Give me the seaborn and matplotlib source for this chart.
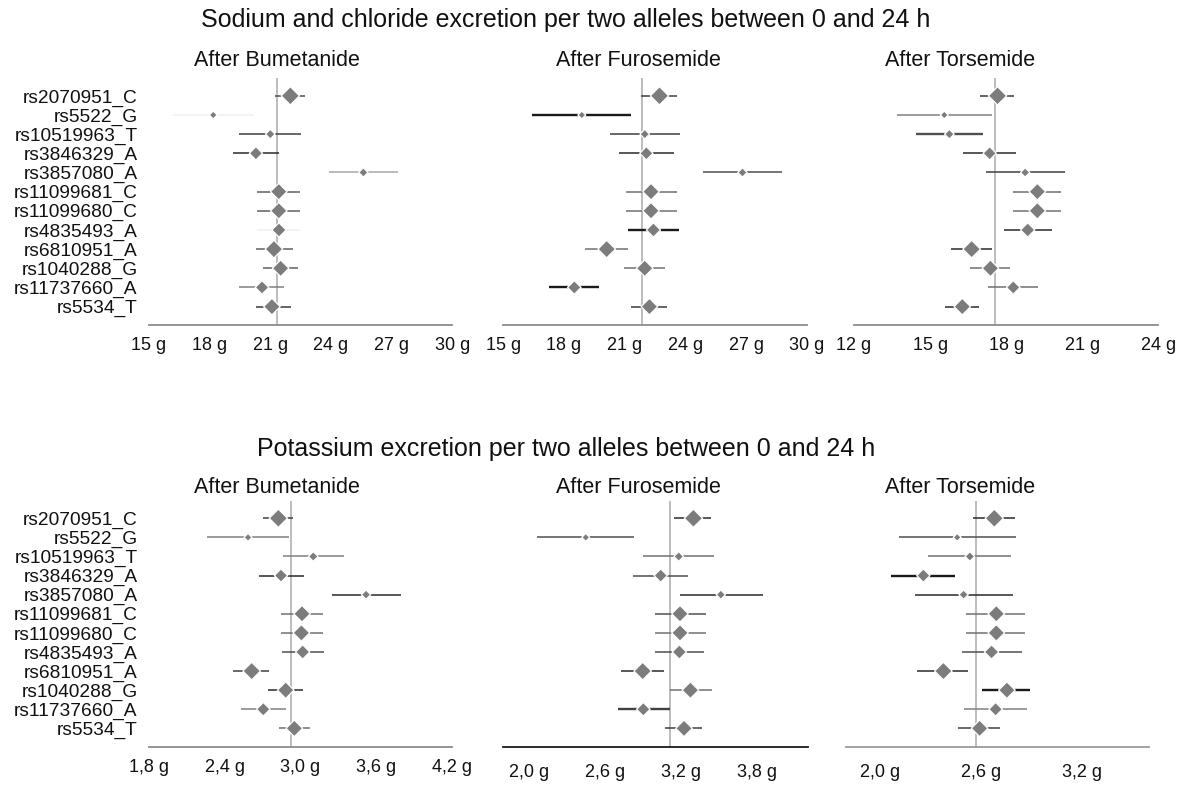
import numpy as np
import pandas as pd
import matplotlib
matplotlib.use("Agg")
import matplotlib.pyplot as plt
import seaborn as sns

# ---------------- data ----------------
snps = ["rs2070951_C", "rs5522_G", "rs10519963_T", "rs3846329_A", "rs3857080_A",
        "rs11099681_C", "rs11099680_C", "rs4835493_A", "rs6810951_A", "rs1040288_G",
        "rs11737660_A", "rs5534_T"]
weights = [15.7, 5.3, 7.0, 10.7, 6.7, 14.0, 14.0, 11.7, 15.0, 14.0, 11.0, 14.0]

drugs = ["After Bumetanide", "After Furosemide", "After Torsemide"]

# Sodium and chloride (g)
na_bum_est = [22.00, 18.19, 21.01, 20.30, 25.61, 21.43, 21.43, 21.44, 21.19, 21.52, 20.60, 21.09]
na_bum_lo = [21.26, 16.19, 19.46, 19.18, 23.90, 20.34, 20.34, 20.34, 20.30, 20.67, 19.48, 20.30]
na_bum_hi = [22.74, 20.20, 22.53, 21.43, 27.32, 22.48, 22.48, 22.50, 22.12, 22.38, 21.70, 22.05]
na_bum_ref = 21.33

na_fur_est = [22.72, 18.88, 21.99, 22.07, 26.82, 22.30, 22.30, 22.42, 20.11, 21.99, 18.51, 22.22]
na_fur_lo = [21.83, 16.43, 20.26, 20.74, 24.86, 21.07, 21.07, 21.18, 19.06, 20.97, 17.28, 21.31]
na_fur_hi = [23.58, 21.30, 23.75, 23.46, 28.77, 23.58, 23.58, 23.70, 21.15, 23.01, 19.73, 23.11]
na_fur_ref = 21.86

na_tor_est = [17.66, 15.56, 15.76, 17.35, 18.75, 19.23, 19.23, 18.85, 16.64, 17.38, 18.28, 16.27]
na_tor_lo = [16.98, 13.71, 14.43, 16.30, 17.19, 18.28, 18.28, 17.91, 15.81, 16.56, 17.28, 15.59]
na_tor_hi = [18.32, 17.45, 17.07, 18.39, 20.32, 20.17, 20.17, 19.82, 17.45, 18.14, 19.27, 16.94]
na_tor_ref = 17.57

# Potassium (g)
k_bum_est = [2.825, 2.585, 3.101, 2.846, 3.518, 3.012, 3.007, 3.017, 2.614, 2.883, 2.706, 2.951]
k_bum_lo = [2.706, 2.263, 2.859, 2.670, 3.247, 2.843, 2.843, 2.851, 2.469, 2.746, 2.530, 2.828]
k_bum_hi = [2.943, 2.911, 3.346, 3.030, 3.797, 3.180, 3.180, 3.186, 2.753, 3.022, 2.885, 3.075]
k_bum_ref = 2.925

k_fur_est = [3.299, 2.450, 3.183, 3.041, 3.515, 3.193, 3.193, 3.188, 2.899, 3.275, 2.904, 3.225]
k_fur_lo = [3.149, 2.066, 2.901, 2.822, 3.191, 2.994, 2.994, 2.994, 2.730, 3.112, 2.702, 3.078]
k_fur_hi = [3.436, 2.832, 3.465, 3.259, 3.847, 3.397, 3.397, 3.386, 3.067, 3.444, 3.112, 3.365]
k_fur_ref = 3.112

k_tor_est = [2.680, 2.460, 2.535, 2.259, 2.498, 2.692, 2.692, 2.664, 2.378, 2.755, 2.688, 2.593]
k_tor_lo = [2.553, 2.115, 2.287, 2.067, 2.207, 2.514, 2.514, 2.488, 2.221, 2.607, 2.498, 2.464]
k_tor_hi = [2.800, 2.810, 2.780, 2.447, 2.790, 2.865, 2.865, 2.846, 2.526, 2.893, 2.873, 2.715]
k_tor_ref = 2.571

na_ticks_bf = [15, 18, 21, 24, 27, 30]
na_ticks_t = [12, 15, 18, 21, 24]
k_ticks_b = [1.8, 2.4, 3.0, 3.6, 4.2]
k_ticks_f = [2.0, 2.6, 3.2, 3.8]
k_ticks_t = [2.0, 2.6, 3.2]

title_na = "Sodium and chloride excretion per two alleles between 0 and 24 h"
title_k = "Potassium excretion per two alleles between 0 and 24 h"

# ---------------- styles ----------------
line_shades = {
    "na_bum": ["#505050", "#f0f0f0", "#404040", "#2a2a2a", "#a8a8a8", "#606060",
               "#606060", "#f0f0f0", "#606060", "#606060", "#808080", "#3a3a3a"],
    "na_fur": ["#404040", "#1a1a1a", "#404040", "#2a2a2a", "#505050", "#707070",
               "#707070", "#1a1a1a", "#707070", "#707070", "#1a1a1a", "#3a3a3a"],
    "na_tor": ["#3a3a3a", "#808080", "#505050", "#2a2a2a", "#404040", "#707070",
               "#707070", "#2a2a2a", "#2a2a2a", "#707070", "#707070", "#2a2a2a"],
    "k_bum": ["#404040", "#808080", "#808080", "#2a2a2a", "#2a2a2a", "#707070",
              "#707070", "#505050", "#404040", "#2a2a2a", "#808080", "#707070"],
    "k_fur": ["#2a2a2a", "#505050", "#707070", "#505050", "#2a2a2a", "#505050",
              "#707070", "#505050", "#2a2a2a", "#707070", "#404040", "#404040"],
    "k_tor": ["#2a2a2a", "#505050", "#707070", "#1a1a1a", "#2a2a2a", "#707070",
              "#707070", "#505050", "#2a2a2a", "#1a1a1a", "#808080", "#404040"],
}
thick_rows = {"na_bum": [], "na_fur": [1, 7, 10], "na_tor": [2],
              "k_bum": [], "k_fur": [10], "k_tor": [3, 9]}

sns.set_theme(style="white")
plt.rcParams["font.family"] = ["Liberation Sans", "DejaVu Sans"]

W, H = 1183, 785
fig = plt.figure(figsize=(W / 100, H / 100), dpi=100)


def px_rect(x0, x1, y_top, y_bot):
    return [x0 / W, 1 - y_bot / H, (x1 - x0) / W, (y_bot - y_top) / H]


def draw_panel(rect, key, est, lo, hi, ref, xlim, ticks, fmt, show_labels,
               spine_color="#8c8c8c", tick_dir="in"):
    ax = fig.add_axes(rect)
    n = len(snps)
    pos = np.arange(n)
    area = [((w + 2.6) * 0.72 / 1.414) ** 2 for w in weights]
    df = pd.DataFrame({"snp": snps, "pos": pos, "est": est, "lo": lo, "hi": hi,
                       "area": area})
    ax.axvline(ref, color="#bdbdbd", lw=1.4, zorder=1)
    lws = [1.7 if i in thick_rows[key] else 1.1 for i in range(n)]
    ax.hlines(df["pos"], df["lo"], df["hi"], colors=line_shades[key],
              linewidths=lws, zorder=2)
    sns.scatterplot(data=df, x="est", y="pos", size="area",
                    sizes=(min(area), max(area)), size_norm=(min(area), max(area)),
                    marker="D", color="#7c7c7c", edgecolor="white", linewidth=0.9,
                    legend=False, ax=ax, zorder=3)
    ax.set_xlim(*xlim)
    ax.set_ylim(11.96, -0.93)
    ax.set_xticks(ticks)
    ax.set_xticklabels([fmt(t) for t in ticks])
    ax.set_yticks(pos)
    if show_labels:
        ax.set_yticklabels(snps, fontsize=13.8)
    else:
        ax.set_yticklabels([])
    ax.set_xlabel("")
    ax.set_ylabel("")
    for s in ["top", "right", "left"]:
        ax.spines[s].set_visible(False)
    ax.spines["bottom"].set_color(spine_color)
    ax.spines["bottom"].set_linewidth(1.3)
    ax.tick_params(axis="x", direction=tick_dir, length=3.5, width=1.0,
                   color=spine_color, labelsize=13, pad=9, labelcolor="#111111")
    ax.tick_params(axis="y", length=0, pad=8, labelcolor="#111111")
    ax.set_facecolor("none")
    return ax


fmt_na = lambda t: f"{t:d} g"
fmt_k = lambda t: f"{t:.1f} g".replace(".", ",")

top_y = (78, 325)
bot_y = (500.5, 746.7)

draw_panel(px_rect(148.7, 452.2, *top_y), "na_bum", na_bum_est, na_bum_lo, na_bum_hi,
           na_bum_ref, (15, 30), na_ticks_bf, fmt_na, True)
draw_panel(px_rect(503.3, 806.8, *top_y), "na_fur", na_fur_est, na_fur_lo, na_fur_hi,
           na_fur_ref, (15, 30), na_ticks_bf, fmt_na, False)
draw_panel(px_rect(854.0, 1158.3, *top_y), "na_tor", na_tor_est, na_tor_lo, na_tor_hi,
           na_tor_ref, (12, 24), na_ticks_t, fmt_na, False)

draw_panel(px_rect(148.7, 452.3, *bot_y), "k_bum", k_bum_est, k_bum_lo, k_bum_hi,
           k_bum_ref, (1.8, 4.2), k_ticks_b, fmt_k, True)
draw_panel(px_rect(503.3, 807.7, *bot_y), "k_fur", k_fur_est, k_fur_lo, k_fur_hi,
           k_fur_ref, (1.8, 4.2), k_ticks_f, fmt_k, False,
           spine_color="#1a1a1a", tick_dir="out")
draw_panel(px_rect(846.0, 1149.3, *bot_y), "k_tor", k_tor_est, k_tor_lo, k_tor_hi,
           k_tor_ref, (1.8, 3.6), k_ticks_t, fmt_k, False,
           spine_color="#9a9a9a", tick_dir="out")

# titles
fig.text(566 / W, 1 - 27 / H, title_na, ha="center", va="baseline", fontsize=18,
         color="#111111")
fig.text(566 / W, 1 - 456 / H, title_k, ha="center", va="baseline", fontsize=18,
         color="#111111")
title_x = [276.5, 638.0, 960.5]
for name, xc in zip(drugs, title_x):
    fig.text(xc / W, 1 - 66 / H, name, ha="center", va="baseline", fontsize=15.5,
             color="#111111")
    fig.text(xc / W, 1 - 493 / H, name, ha="center", va="baseline", fontsize=15.5,
             color="#111111")

fig.savefig("out.png", dpi=100)
